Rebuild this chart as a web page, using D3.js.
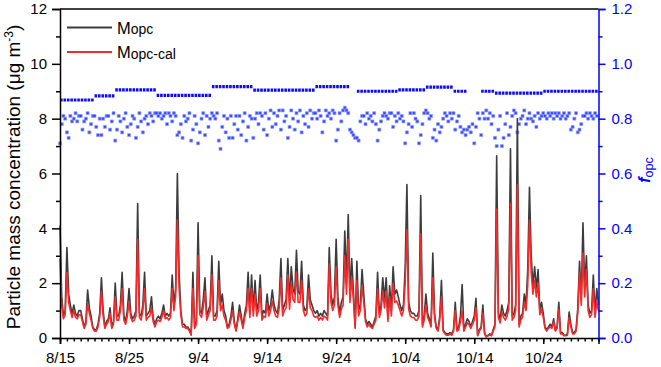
<!DOCTYPE html>
<html>
<head>
<meta charset="utf-8">
<script src="https://cdn.jsdelivr.net/npm/d3@7"></script>
<style>
    body { margin: 0; background: #fff; }
    text { font-family: Arial, "Liberation Sans", sans-serif; }
</style>
</head>
<body>
<div id="chart"></div>
<script>
// x axis: days since 8/15, labels every 10 days
const tickDays = [0, 10, 20, 30, 40, 50, 60, 70];
const tickLabels = ["8/15", "8/25", "9/4", "9/14", "9/24", "10/4", "10/14", "10/24"];
const lastDay = 78;
const pointsPerDay = 4;

// M_opc (black), 4 readings per day
const mOpc = [
    4.1, 1.5, 0.8, 1.0,   3.3, 1.6, 1.2, 0.9,   1.2, 0.9, 0.8, 1.0,   1.0, 0.7, 0.4, 0.6,
    1.75, 1.1, 0.8, 0.4,  0.3, 0.3, 0.5, 0.9,   2.2, 1.0, 0.4, 0.6,   0.7, 1.1, 0.4, 0.6,
    2.0, 0.8, 0.8, 1.2,   2.4, 0.8, 0.6, 1.0,   1.8, 0.9, 0.7, 0.8,   1.0, 4.9, 0.9, 0.8,
    1.2, 2.4, 0.8, 0.9,   1.0, 1.5, 0.7, 0.5,   0.7, 0.8, 0.7, 0.9,   1.2, 0.8, 0.9, 0.8,
    0.9, 2.3, 1.2, 1.8,   6.0, 2.4, 1.0, 0.5,   0.5, 0.4, 0.4, 0.3,   0.15, 2.4, 0.4, 0.6,
    4.2, 1.0, 0.9, 1.4,   2.2, 0.8, 1.0, 1.2,   3.0, 0.8, 0.8, 1.0,   2.8, 1.2, 1.6, 1.0,
    0.8, 0.4, 0.5, 0.8,   1.3, 0.6, 0.3, 0.7,   1.2, 0.8, 0.4, 0.9,   1.2, 2.4, 0.9, 2.3,
    1.0, 2.1, 1.0, 1.3,   2.3, 0.8, 1.0, 0.9,   1.6, 1.0, 1.2, 1.75,  1.2, 1.0, 0.9, 1.4,
    2.9, 1.0, 1.2, 1.4,   2.9, 1.3, 2.6, 1.8,   1.6, 3.2, 1.7, 1.6,   2.8, 1.2, 1.0, 1.1,
    2.3, 1.4, 1.2, 1.0,   0.9, 1.0, 0.8, 0.9,   0.8, 1.0, 0.9, 0.8,   3.3, 1.6, 1.2, 1.5,
    3.6, 1.5, 0.9, 1.3,   1.5, 3.9, 2.0, 4.5,   1.6, 2.9, 1.7, 0.4,   2.8, 1.0, 1.2, 2.5,
    1.6, 0.7, 0.5, 0.6,   0.5, 0.4, 0.6, 0.8,   2.4, 0.9, 1.2, 2.2,   1.4, 2.2, 0.7, 1.9,
    1.0, 2.6, 1.6, 1.75,  1.5, 1.2, 1.0, 1.2,   2.6, 5.6, 1.3, 1.0,   0.9, 0.9, 0.8, 0.8,
    1.0, 5.2, 0.5, 0.8,   1.6, 0.9, 0.7, 0.5,   3.1, 0.9, 0.4, 0.3,   0.8, 2.1, 0.3, 0.2,
    0.15, 0.15, 0.2, 0.15, 0.3, 1.3, 0.3, 0.4,  0.8, 1.95, 0.3, 0.5,  0.7, 0.6, 0.4, 0.6,
    0.8, 1.45, 0.1, 0.3,  0.4, 1.2, 0.2, 0.05,  0.1, 0.15, 0.1, 0.3,  0.5, 6.65, 0.9, 0.7,
    1.2, 0.9, 0.8, 1.0,   1.3, 6.9, 0.8, 0.9,   1.2, 8.0, 0.5, 0.8,   0.9, 1.6, 1.2, 2.5,
    5.5, 3.0, 1.9, 2.6,   1.8, 2.5, 1.0, 1.3,   0.9, 0.4, 0.3, 0.4,   0.5, 0.4, 0.7, 0.3,
    0.4, 1.3, 0.2, 0.2,   0.1, 0.1, 0.15, 0.95, 0.5, 0.2, 0.2, 0.3,   1.1, 2.8, 1.4, 4.2,
    1.8, 3.0, 1.2, 0.9,   1.0, 2.3, 0.9, 1.8,   1.2
];

// M_opc-cal (red)
const mOpcCal = [
    2.9, 1.2, 0.7, 0.85,  2.4, 1.3, 1.0, 0.75,  1.0, 0.75, 0.7, 0.85, 0.85, 0.6, 0.35, 0.5,
    1.25, 0.9, 0.65, 0.35, 0.25, 0.25, 0.4, 0.75, 1.7, 0.8, 0.35, 0.5, 0.6, 0.9, 0.35, 0.5,
    1.5, 0.65, 0.65, 1.0, 1.8, 0.65, 0.5, 0.8,  1.3, 0.75, 0.6, 0.65, 0.8, 3.6, 0.75, 0.65,
    1.0, 1.8, 0.65, 0.75, 0.8, 1.1, 0.6, 0.4,   0.6, 0.65, 0.6, 0.75, 1.0, 0.7, 0.75, 0.65,
    0.75, 1.8, 1.0, 1.5,  4.3, 1.8, 0.85, 0.4,  0.4, 0.35, 0.35, 0.25, 0.1, 1.8, 0.35, 0.5,
    3.0, 0.85, 0.75, 1.1, 1.7, 0.65, 0.85, 1.0, 2.3, 0.65, 0.65, 0.8, 2.1, 1.0, 1.2, 0.8,
    0.65, 0.35, 0.4, 0.65, 1.0, 0.5, 0.25, 0.6, 0.95, 0.65, 0.35, 0.75, 1.0, 1.8, 0.75, 1.8,
    0.8, 1.6, 0.8, 1.0,   1.8, 0.65, 0.8, 0.75, 1.25, 0.8, 1.0, 1.35, 1.0, 0.8, 0.75, 1.1,
    2.2, 0.8, 1.0, 1.1,   2.3, 1.05, 2.0, 1.4,  1.3, 2.4, 1.3, 1.3,   2.1, 1.0, 0.8, 0.9,
    1.8, 1.1, 1.0, 0.8,   0.75, 0.8, 0.65, 0.75, 0.65, 0.8, 0.75, 0.65, 2.7, 1.3, 1.0, 1.2,
    2.6, 1.2, 0.75, 1.05, 1.2, 3.0, 1.6, 3.6,   1.3, 2.2, 1.4, 0.35,  2.1, 0.8, 1.0, 1.9,
    1.3, 0.6, 0.4, 0.5,   0.4, 0.35, 0.5, 0.65, 1.8, 0.75, 1.0, 1.7,  1.1, 1.7, 0.6, 1.5,
    0.8, 2.0, 1.3, 1.35,  1.2, 1.0, 0.8, 1.0,   2.0, 3.95, 1.05, 0.8, 0.75, 0.75, 0.65, 0.65,
    0.8, 3.8, 0.4, 0.65,  1.2, 0.75, 0.6, 0.4,  2.2, 0.75, 0.35, 0.25, 0.65, 1.5, 0.25, 0.15,
    0.1, 0.1, 0.15, 0.1,  0.25, 1.0, 0.25, 0.3, 0.6, 1.0, 0.25, 0.4,  0.55, 0.5, 0.35, 0.5,
    0.65, 1.1, 0.08, 0.25, 0.35, 0.9, 0.15, 0.04, 0.08, 0.12, 0.08, 0.25, 0.4, 4.7, 0.75, 0.55,
    0.95, 0.75, 0.65, 0.8, 1.05, 4.9, 0.65, 0.75, 1.0, 5.6, 0.4, 0.65, 0.75, 1.3, 1.0, 1.9,
    4.3, 2.4, 1.6, 2.1,   1.5, 2.0, 0.85, 1.05, 0.75, 0.35, 0.25, 0.35, 0.4, 0.35, 0.6, 0.25,
    0.35, 1.05, 0.15, 0.15, 0.08, 0.08, 0.1, 0.75, 0.4, 0.15, 0.15, 0.25, 0.9, 2.4, 1.2, 3.1,
    1.5, 2.5, 1.0, 0.75,  0.85, 1.8, 0.75, 1.3, 1.0
];

// f_opc scatter (right axis), 4 per day
const fOpc = [
    0.71, 0.78, 0.81, 0.80,  0.75, 0.73, 0.81, 0.79,  0.80, 0.82, 0.79, 0.81,  0.81, 0.76, 0.79, 0.80,
    0.82, 0.75, 0.78, 0.81,  0.81, 0.77, 0.74, 0.80,  0.74, 0.80, 0.77, 0.81,  0.81, 0.76, 0.79, 0.82,
    0.72, 0.76, 0.81, 0.79,  0.75, 0.80, 0.82, 0.77,  0.74, 0.78, 0.81, 0.80,  0.73, 0.77, 0.82, 0.79,
    0.75, 0.80, 0.81, 0.78,  0.82, 0.81, 0.79, 0.82,  0.82, 0.81, 0.82, 0.80,  0.81, 0.82, 0.78, 0.82,
    0.81, 0.79, 0.82, 0.81,  0.74, 0.75, 0.78, 0.73,  0.81, 0.79, 0.80, 0.82,  0.72, 0.76, 0.81, 0.78,
    0.71, 0.75, 0.80, 0.82,  0.74, 0.81, 0.77, 0.80,  0.82, 0.81, 0.80, 0.82,  0.72, 0.69, 0.77, 0.81,
    0.75, 0.80, 0.73, 0.81,  0.73, 0.78, 0.81, 0.76,  0.81, 0.74, 0.79, 0.82,  0.72, 0.77, 0.81, 0.80,
    0.73, 0.80, 0.82, 0.78,  0.82, 0.81, 0.76, 0.82,  0.74, 0.80, 0.83, 0.77,  0.82, 0.78, 0.81, 0.83,
    0.76, 0.83, 0.79, 0.81,  0.73, 0.77, 0.83, 0.80,  0.76, 0.82, 0.79, 0.83,  0.75, 0.81, 0.78, 0.82,
    0.77, 0.83, 0.80, 0.82,  0.82, 0.80, 0.83, 0.81,  0.75, 0.79, 0.83, 0.81,  0.82, 0.80, 0.83, 0.82,
    0.72, 0.76, 0.82, 0.79,  0.83, 0.84, 0.83, 0.82,  0.76, 0.75, 0.74, 0.73,  0.73, 0.72, 0.79, 0.81,
    0.81, 0.78, 0.82, 0.80,  0.81, 0.79, 0.82, 0.78,  0.72, 0.76, 0.79, 0.81,  0.82, 0.81, 0.80, 0.82,
    0.82, 0.77, 0.81, 0.79,  0.82, 0.80, 0.81, 0.79,  0.71, 0.75, 0.78, 0.82,  0.77, 0.82, 0.80, 0.79,
    0.71, 0.74, 0.78, 0.82,  0.83, 0.82, 0.80, 0.81,  0.73, 0.76, 0.72, 0.78,  0.75, 0.77, 0.80, 0.82,
    0.81, 0.79, 0.82, 0.80,  0.82, 0.76, 0.79, 0.81,  0.77, 0.75, 0.76, 0.74,  0.76, 0.77, 0.75, 0.78,
    0.71, 0.77, 0.82, 0.80,  0.74, 0.82, 0.80, 0.83,  0.80, 0.82, 0.78, 0.81,  0.73, 0.70, 0.76, 0.81,
    0.70, 0.73, 0.78, 0.82,  0.74, 0.77, 0.81, 0.83,  0.82, 0.75, 0.78, 0.80,  0.81, 0.83, 0.78, 0.80,
    0.82, 0.80, 0.79, 0.81,  0.77, 0.82, 0.80, 0.81,  0.82, 0.81, 0.80, 0.82,  0.81, 0.82, 0.80, 0.82,
    0.81, 0.82, 0.80, 0.81,  0.82, 0.80, 0.81, 0.82,  0.76, 0.77, 0.80, 0.82,  0.75, 0.76, 0.78, 0.81,
    0.81, 0.82, 0.80, 0.82,  0.81, 0.80, 0.82, 0.81
];

// calibration f_opc, one value per day (null = no value)
const fCalDaily = [
    0.868, 0.868, 0.868, 0.868, 0.868, 0.883, 0.883, 0.883,
    0.905, 0.905, 0.905, 0.905, 0.905, 0.905,
    0.885, 0.885, 0.885, 0.885, 0.885, 0.885, 0.885, 0.885,
    0.917, 0.917, 0.917, 0.917, 0.917, 0.917,
    0.904, 0.904, 0.904, 0.904, 0.904, 0.904, 0.904, 0.904, 0.904,
    0.917, 0.917, 0.917, 0.917, 0.917, null,
    0.900, 0.900, 0.900, 0.900, 0.900, 0.900,
    0.905, 0.905, 0.905, 0.905,
    0.915, 0.915, 0.915, 0.915,
    0.900, 0.900, null, null, 0.900, 0.900,
    0.893, 0.893, 0.893, 0.893, 0.893, 0.893, 0.893,
    0.900, 0.900, 0.900, 0.900, 0.900, 0.900, 0.900, 0.900
];

const width = 661;
const height = 367;
const plotLeft = 60, plotRight = 598.5, plotTop = 9, plotBottom = 338;
const blue = "#0000ff";

let svg = d3.select("#chart")
    .append("svg")
    .attr("width", width)
    .attr("height", height);

let x = d3.scaleLinear().domain([0, lastDay]).range([plotLeft, plotRight]);
let yM = d3.scaleLinear().domain([0, 12]).range([plotBottom, plotTop]);
let yF = d3.scaleLinear().domain([0, 1.2]).range([plotBottom, plotTop]);

// f_opc scatter, small hollow-ish squares
svg.append("g")
    .selectAll("path")
    .data(fOpc)
    .join("path")
    .attr("transform", (d, i) => "translate(" + x(i / pointsPerDay) + "," + yF(d) + ")")
    .attr("d", d3.symbol().type(d3.symbolSquare).size(9))
    .attr("fill", "#1f33ff")
    .attr("stroke", "#8c99ff")
    .attr("stroke-width", 0.7)
    .attr("opacity", 0.9);

// daily calibration factor as thick dashed marks
svg.append("g")
    .selectAll("line")
    .data(fCalDaily.map((v, i) => ({ day: i, v: v })).filter(d => d.v !== null))
    .join("line")
    .attr("x1", d => x(d.day))
    .attr("x2", d => x(d.day + 1))
    .attr("y1", d => yF(d.v))
    .attr("y2", d => yF(d.v))
    .attr("stroke", "#0a0aff")
    .attr("stroke-width", 3.2)
    .attr("stroke-dasharray", "2.6,0.85");

// mass lines
let massLine = d3.line()
    .x((d, i) => x(i / pointsPerDay))
    .y(d => yM(d));

svg.append("path")
    .datum(mOpc)
    .attr("d", massLine)
    .attr("fill", "none")
    .attr("stroke", "#3c3c3c")
    .attr("stroke-width", 1.6)
    .attr("stroke-linejoin", "round");

svg.append("path")
    .datum(mOpcCal)
    .attr("d", massLine)
    .attr("fill", "none")
    .attr("stroke", "#f52a2a")
    .attr("stroke-width", 1.6)
    .attr("stroke-linejoin", "round");

// frame: top border
svg.append("line")
    .attr("x1", plotLeft).attr("x2", plotRight)
    .attr("y1", plotTop).attr("y2", plotTop)
    .attr("stroke", "#000").attr("stroke-width", 1.5);

// left axis
svg.append("g")
    .attr("transform", "translate(" + plotLeft + ",0)")
    .call(d3.axisLeft(yM).tickValues(d3.range(0, 13, 2)).tickSize(8).tickPadding(5).tickFormat(d3.format("d")));
svg.append("g")
    .attr("transform", "translate(" + plotLeft + ",0)")
    .call(d3.axisLeft(yM).tickValues(d3.range(1, 12, 2)).tickSize(4).tickFormat(""))
    .select(".domain").remove();

// bottom axis
svg.append("g")
    .attr("transform", "translate(0," + plotBottom + ")")
    .call(d3.axisBottom(x).tickValues(tickDays).tickSize(6).tickPadding(8).tickFormat((d, i) => tickLabels[i]));
svg.append("g")
    .attr("transform", "translate(0," + plotBottom + ")")
    .call(d3.axisBottom(x).tickValues(d3.range(0, lastDay + 1)).tickSize(3.5).tickFormat(""))
    .select(".domain").remove();

// right axis
let rightAxis = svg.append("g")
    .attr("transform", "translate(" + plotRight + ",0)")
    .call(d3.axisRight(yF).tickValues(d3.range(0, 7).map(i => i * 0.2)).tickSize(7).tickPadding(6).tickFormat(d3.format(".1f")));
let rightMinor = svg.append("g")
    .attr("transform", "translate(" + plotRight + ",0)")
    .call(d3.axisRight(yF).tickValues(d3.range(0, 6).map(i => i * 0.2 + 0.1)).tickSize(4).tickFormat(""));
rightMinor.select(".domain").remove();

svg.selectAll(".domain, .tick line").attr("stroke-width", 1.5);
svg.selectAll(".tick text").attr("font-size", 15).attr("font-family", "Arial, 'Liberation Sans', sans-serif");
rightAxis.selectAll(".domain, .tick line").attr("stroke", blue);
rightMinor.selectAll(".tick line").attr("stroke", blue);
rightAxis.selectAll(".tick text").attr("fill", blue);

// left title
let lt = svg.append("text")
    .attr("transform", "translate(20,177) rotate(-90)")
    .attr("text-anchor", "middle")
    .attr("font-size", 19)
    .attr("fill", "#000");
lt.append("tspan").text("Particle mass concentration (\u03bcg m");
lt.append("tspan").text("-3").attr("font-size", 12).attr("dy", -7);
lt.append("tspan").text(")").attr("dy", 7);

// right title
let rt = svg.append("text")
    .attr("transform", "translate(650,170) rotate(-90)")
    .attr("text-anchor", "middle")
    .attr("fill", blue);
rt.append("tspan").text("f").attr("font-size", 16).attr("font-weight", "bold").attr("font-style", "italic");
rt.append("tspan").text("opc").attr("font-size", 12.5).attr("dy", 3);

// legend
const legendItems = [
    { sub: "opc", color: "#3c3c3c", y: 27.5 },
    { sub: "opc-cal", color: "#f52a2a", y: 52 }
];
let legend = svg.append("g");
legendItems.forEach(item => {
    legend.append("line")
        .attr("x1", 67).attr("x2", 112)
        .attr("y1", item.y).attr("y2", item.y)
        .attr("stroke", item.color)
        .attr("stroke-width", 2);
    let t = legend.append("text")
        .attr("x", 117)
        .attr("y", item.y + 6)
        .attr("fill", "#000");
    t.append("tspan").text("M").attr("font-size", 16.5);
    t.append("tspan").text(item.sub).attr("font-size", 14).attr("dy", 0.5);
});
</script>
</body>
</html>
